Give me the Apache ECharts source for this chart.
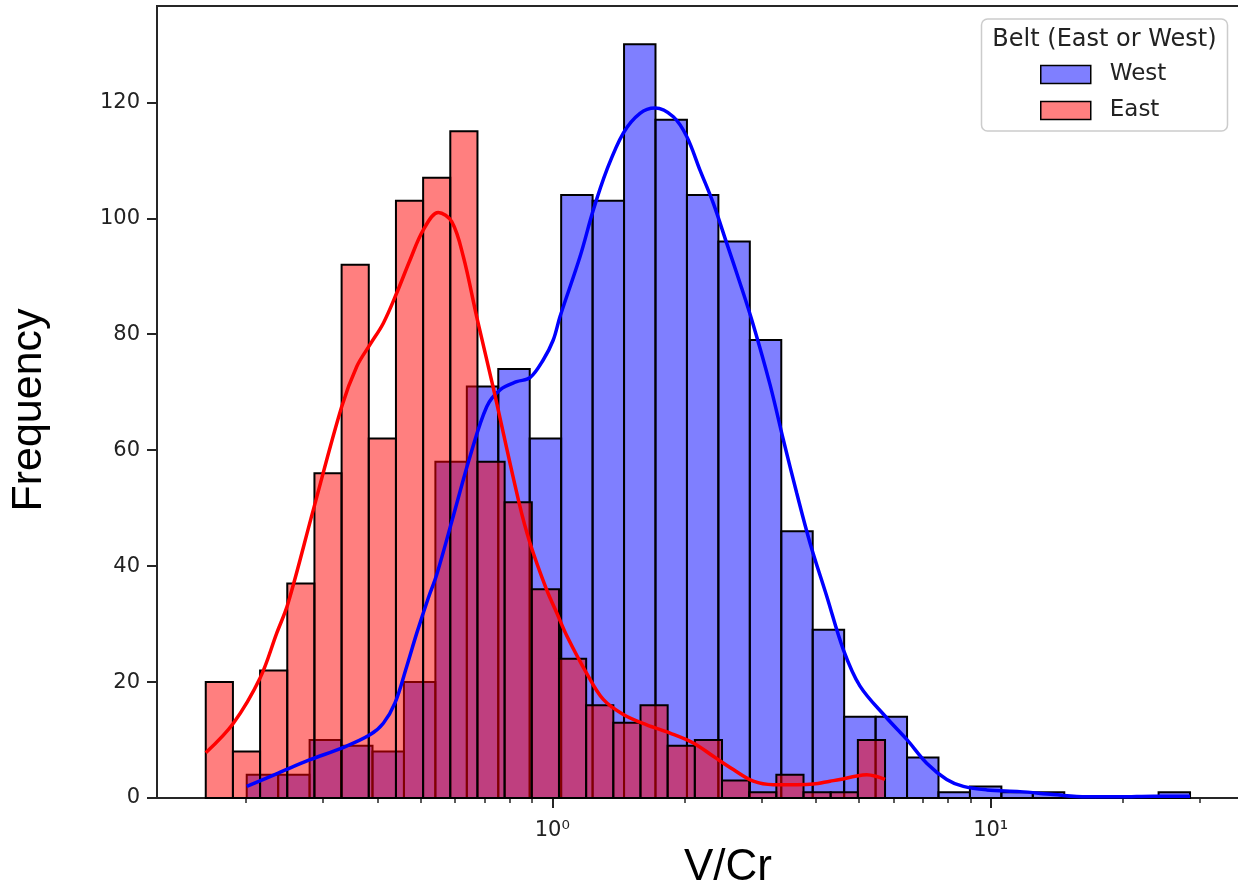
<!DOCTYPE html>
<html>
<head>
<meta charset="utf-8">
<script src="https://cdn.jsdelivr.net/npm/echarts@6/dist/echarts.min.js"></script>
<style>
html, body { margin: 0; padding: 0; background: #fff; }
#chart { width: 1238px; height: 884px; }
</style>
</head>
<body>
<div id="chart"></div>
<script>
// histogram counts, bins have equal width in log10(V/Cr)
var westRange = [0.2009, 28.49];
var westCounts = [4, 4, 10, 9, 8, 20, 58, 71, 74, 62, 104, 103, 130, 117, 104, 96, 79, 46, 29, 14, 14, 7, 1, 2, 1, 1, 0, 0, 0, 1];
var eastRange = [0.162, 5.741];
var eastCounts = [20, 8, 22, 37, 56, 92, 62, 103, 107, 115, 58, 51, 36, 24, 16, 13, 16, 9, 10, 3, 1, 4, 1, 1, 10];

// kde curves
var westKdeX = [0.2009, 0.2371, 0.2801, 0.3308, 0.3838, 0.4117, 0.4377, 0.4655, 0.4905, 0.5214, 0.5448, 0.5944, 0.6491, 0.7086, 0.7601, 0.8294, 0.8894, 0.9539, 1.005, 1.041, 1.157, 1.240, 1.331, 1.452, 1.585, 1.715, 1.888, 2.026, 2.172, 2.329, 2.499, 2.681, 2.874, 3.138, 3.365, 3.610, 3.871, 4.227, 4.611, 5.034, 5.793, 6.434, 7.145, 7.937, 8.661, 9.792, 11.66, 13.90, 16.56, 19.72, 23.49, 28.49];
var westKdeY = [2.0, 4.3, 6.6, 8.6, 10.9, 12.9, 16.4, 22.7, 28.4, 34.5, 38.5, 48.6, 58.9, 67.5, 70.4, 71.8, 72.5, 75.6, 79.0, 83, 93.4, 101.4, 108.3, 114.7, 118.1, 119, 117.5, 114.1, 108.3, 102.6, 95.7, 88.8, 81.6, 71.3, 61.8, 52.6, 44, 34.8, 25.6, 19.3, 13.8, 10.1, 6.0, 3.2, 2.0, 1.4, 1.1, 0.6, 0.2, 0.2, 0.3, 0.3];
var eastKdeX = [0.162, 0.1873, 0.2155, 0.2351, 0.2494, 0.2850, 0.3308, 0.3579, 0.3838, 0.4117, 0.4417, 0.4737, 0.5079, 0.5495, 0.5896, 0.6266, 0.6723, 0.7322, 0.8394, 0.8894, 0.971, 1.023, 1.079, 1.198, 1.307, 1.452, 1.642, 1.856, 2.097, 2.329, 2.588, 2.874, 3.193, 3.610, 3.938, 4.300, 4.532, 4.947, 5.215, 5.495, 5.741];
var eastKdeY = [7.8, 12.9, 20.7, 28.4, 33.5, 49.7, 67.5, 74.4, 78.2, 81.9, 87.1, 92.8, 98, 101, 99.4, 93.4, 83, 71, 51, 44, 35.9, 32, 28, 21.5, 17, 14.4, 12.6, 11.2, 9.5, 7.2, 4.9, 2.9, 2.3, 2.3, 2.4, 2.9, 3.2, 3.8, 4.0, 3.7, 3.2];

var majorTicks = [1, 10];
var minorTicks = [0.2, 0.3, 0.4, 0.5, 0.6, 0.7, 0.8, 0.9, 2, 3, 4, 5, 6, 7, 8, 9, 20, 30];
var yTicks = [0, 20, 40, 60, 80, 100, 120];

var westFill = 'rgba(0,0,255,0.5)';
var eastFill = 'rgba(255,0,0,0.5)';
var sup = {'0': '\u2070', '1': '\u00b9'};

// x axis works in log10 units
function lg(v) { return Math.log10(v); }

function makeBins(range, counts) {
    var lo = lg(range[0]), hi = lg(range[1]);
    var w = (hi - lo) / counts.length;
    return counts.map(function (c, i) {
        return [lo + i * w, lo + (i + 1) * w, c];
    });
}

function pairs(xs, ys) {
    return xs.map(function (x, i) { return [lg(x), ys[i]]; });
}

function barRenderer(fill) {
    return function (params, api) {
        var p0 = api.coord([api.value(0), api.value(2)]);
        var p1 = api.coord([api.value(1), 0]);
        return {
            type: 'rect',
            shape: {x: p0[0], y: p0[1], width: p1[0] - p0[0], height: p1[1] - p0[1]},
            style: {fill: fill, stroke: '#000', lineWidth: 2}
        };
    };
}

var chart = echarts.init(document.getElementById('chart'));

var xMin = (157 - 552.3) / 438.4;
var xMax = (1239 - 552.3) / 438.4;

var option = {
    animation: false,
    backgroundColor: '#fff',
    grid: {
        left: 157, right: -1, top: 6, bottom: 86,
        outerBoundsMode: 'none',
        show: true, borderColor: '#262626', borderWidth: 2,
        backgroundColor: 'transparent'
    },
    xAxis: [{
        type: 'value',
        min: xMin,
        max: xMax,
        position: 'bottom',
        name: 'V/Cr',
        nameLocation: 'middle',
        nameGap: 32,
        nameTextStyle: {fontSize: 44, fontFamily: 'Liberation Sans', color: '#000', padding: [0, 0, 0, 60]},
        axisLine: {show: true, onZero: false, lineStyle: {color: '#262626', width: 2}},
        splitLine: {show: false},
        axisTick: {show: true, length: 10, customValues: majorTicks.map(lg), lineStyle: {color: '#262626', width: 2}},
        axisLabel: {
            show: true, margin: 22, fontSize: 21, fontFamily: 'DejaVu Sans', color: '#222',
            customValues: majorTicks.map(lg),
            formatter: function (v) { return '10' + sup[String(Math.round(v))]; }
        }
    }, {
        type: 'value',
        min: xMin,
        max: xMax,
        position: 'bottom',
        axisLine: {show: false, onZero: false},
        splitLine: {show: false},
        axisLabel: {show: false},
        axisTick: {show: true, length: 5, customValues: minorTicks.map(lg), lineStyle: {color: '#262626', width: 1.5}}
    }],
    yAxis: {
        type: 'value',
        min: 0,
        max: 792 / 5.7975,
        position: 'left',
        name: 'Frequency',
        nameLocation: 'middle',
        nameGap: 106,
        nameTextStyle: {fontSize: 43, fontFamily: 'Liberation Sans', color: '#000', padding: [0, 16, 0, 0]},
        axisLine: {show: true, onZero: false, lineStyle: {color: '#262626', width: 2}},
        splitLine: {show: false},
        axisTick: {show: true, length: 10, customValues: yTicks, lineStyle: {color: '#262626', width: 2}},
        axisLabel: {margin: 17, fontSize: 21, fontFamily: 'DejaVu Sans', color: '#222', customValues: yTicks}
    },
    legend: {
        data: [
            {name: 'West', icon: 'rect', itemStyle: {color: westFill, borderColor: '#000', borderWidth: 1.5}},
            {name: 'East', icon: 'rect', itemStyle: {color: eastFill, borderColor: '#000', borderWidth: 1.5}}
        ],
        orient: 'vertical',
        left: 1040, top: 63,
        padding: 0,
        itemWidth: 50, itemHeight: 18, itemGap: 13,
        selectedMode: false,
        z: 20,
        textStyle: {fontSize: 23, fontFamily: 'DejaVu Sans', color: '#222', padding: [0, 0, 0, 14]}
    },
    graphic: [
        {type: 'rect', z: 15, shape: {x: 981.5, y: 19, width: 246, height: 112, r: 6},
         style: {fill: 'rgba(255,255,255,0.8)', stroke: '#cccccc', lineWidth: 1.5}},
        {type: 'text', z: 16, x: 1104.5, y: 40,
         style: {text: 'Belt (East or West)', fontSize: 24, fontFamily: 'DejaVu Sans', fill: '#222', align: 'center', verticalAlign: 'middle'}}
    ],
    series: [
        {
            name: 'West', type: 'custom', xAxisIndex: 0,
            itemStyle: {color: westFill},
            encode: {x: [0, 1], y: 2},
            renderItem: barRenderer(westFill),
            data: makeBins(westRange, westCounts)
        },
        {
            name: 'East', type: 'custom', xAxisIndex: 0,
            itemStyle: {color: eastFill},
            encode: {x: [0, 1], y: 2},
            renderItem: barRenderer(eastFill),
            data: makeBins(eastRange, eastCounts)
        },
        {
            name: 'West KDE', type: 'line', xAxisIndex: 0,
            showSymbol: false, smooth: 0.35, z: 5,
            lineStyle: {color: '#0000ff', width: 3.5},
            data: pairs(westKdeX, westKdeY)
        },
        {
            name: 'East KDE', type: 'line', xAxisIndex: 0,
            showSymbol: false, smooth: 0.35, z: 5,
            lineStyle: {color: '#ff0000', width: 3.5},
            data: pairs(eastKdeX, eastKdeY)
        }
    ]
};

chart.setOption(option);
</script>
</body>
</html>
